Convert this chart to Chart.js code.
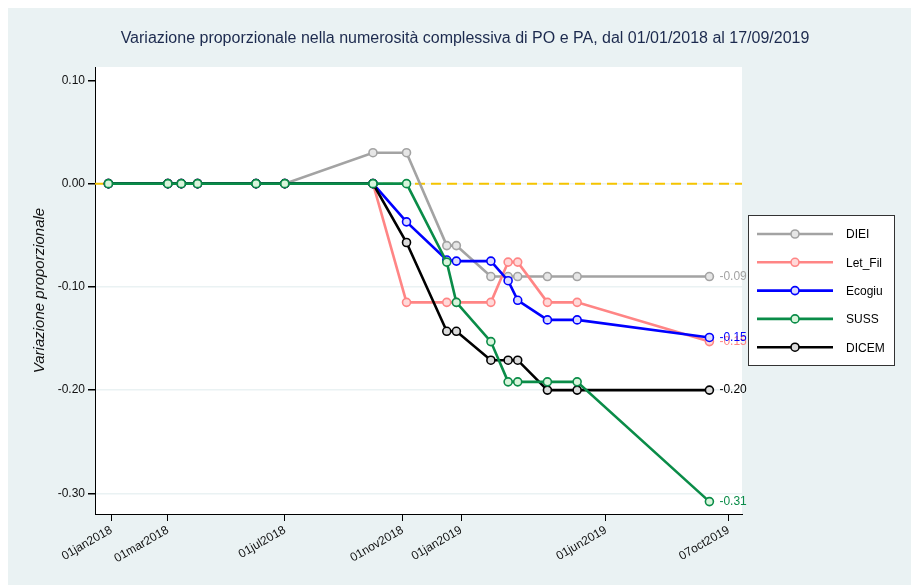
<!DOCTYPE html>
<html lang="it">
  <head>
    <meta charset="UTF-8" />
    <title>Variazione proporzionale PO e PA</title>
    <script src="https://cdn.jsdelivr.net/npm/chart.js"></script>
    <style>
      body {
        margin: 0;
        background: #ffffff;
      }
      canvas {
        display: block;
      }
    </style>
  </head>
  <body>
    <canvas id="chart" width="911" height="585"></canvas>
    <script>
      // days counted from 01jan2018
      const days = [-3, 59, 73, 90, 151, 181, 273, 308, 350, 360, 396, 414, 424, 455, 486, 624];

      const diei = [0, 0, 0, 0, 0, 0, 0.03, 0.03, -0.06, -0.06, -0.09, -0.09, -0.09, -0.09, -0.09, -0.09];
      const letFil = [0, 0, 0, 0, 0, 0, 0, -0.115, -0.115, -0.115, -0.115, -0.076, -0.076, -0.115, -0.115, -0.153];
      const ecogiu = [0, 0, 0, 0, 0, 0, 0, -0.037, -0.074, -0.075, -0.075, -0.094, -0.113, -0.132, -0.132, -0.149];
      const suss = [0, 0, 0, 0, 0, 0, 0, 0, -0.076, -0.115, -0.153, -0.192, -0.192, -0.192, -0.192, -0.308];
      const dicem = [0, 0, 0, 0, 0, 0, 0, -0.057, -0.143, -0.143, -0.171, -0.171, -0.171, -0.2, -0.2, -0.2];

      const xTickDays = [0, 59, 181, 304, 365, 516, 644];
      const xTickLabels = ["01jan2018", "01mar2018", "01jul2018", "01nov2018", "01jan2019", "01jun2019", "07oct2019"];
      const yTicks = [0.1, 0, -0.1, -0.2, -0.3];

      const titleText = "Variazione proporzionale nella numerosità complessiva di PO e PA, dal 01/01/2018 al 17/09/2019";
      const FONT = "'Liberation Sans', Arial, sans-serif";

      const series = [
        { label: "DIEI", data: diei, color: "#a3a3a3", fill: "#e6e6e6", order: 4 },
        { label: "Let_Fil", data: letFil, color: "#ff8585", fill: "#ffd9d9", order: 3 },
        { label: "Ecogiu", data: ecogiu, color: "#0000ff", fill: "#dcdcff", order: 2 },
        { label: "SUSS", data: suss, color: "#0a8c48", fill: "#d9f5dc", order: 0 },
        { label: "DICEM", data: dicem, color: "#000000", fill: "#dcdcdc", order: 1 },
      ];

      const datasets = series.map((s) => ({
        label: s.label,
        data: days.map((d, i) => ({ x: d, y: s.data[i] })),
        borderColor: s.color,
        backgroundColor: s.fill,
        pointBackgroundColor: s.fill,
        pointBorderColor: s.color,
        pointRadius: 4,
        pointBorderWidth: 1.6,
        borderWidth: 2.6,
        tension: 0,
        order: s.order,
      }));

      // dashed reference line at zero
      datasets.push({
        label: "ref",
        data: [{ x: -17, y: 0 }, { x: 658, y: 0 }],
        borderColor: "#f5c400",
        borderWidth: 2,
        borderDash: [10, 6],
        pointRadius: 0,
        order: 5,
      });

      const decorations = {
        id: "decorations",
        beforeDraw(chart) {
          const { ctx, chartArea } = chart;
          ctx.save();
          ctx.fillStyle = "#ffffff";
          ctx.fillRect(0, 0, chart.width, chart.height);
          ctx.fillStyle = "#eaf2f3";
          ctx.fillRect(8, 8, chart.width - 8, chart.height - 8);
          ctx.fillStyle = "#ffffff";
          ctx.fillRect(chartArea.left, chartArea.top, chartArea.right - chartArea.left, chartArea.bottom - chartArea.top);
          ctx.restore();
        },
        afterDatasetsDraw(chart) {
          const ctx = chart.ctx;
          ctx.save();
          ctx.font = "12px " + FONT;
          ctx.textAlign = "left";
          ctx.textBaseline = "middle";
          series.forEach((s, i) => {
            const pts = chart.getDatasetMeta(i).data;
            const last = pts[pts.length - 1];
            ctx.fillStyle = s.color;
            ctx.fillText(s.data[s.data.length - 1].toFixed(2), last.x + 10, last.y);
          });
          ctx.restore();
        },
        afterDraw(chart) {
          const ctx = chart.ctx;
          ctx.save();
          // title
          ctx.font = "16px " + FONT;
          ctx.fillStyle = "#1c2a4e";
          ctx.textAlign = "center";
          ctx.textBaseline = "middle";
          ctx.fillText(titleText, 465, 39);

          // legend box
          ctx.fillStyle = "#ffffff";
          ctx.fillRect(748.5, 215.5, 146, 150);
          ctx.strokeStyle = "#333333";
          ctx.lineWidth = 1;
          ctx.strokeRect(748.5, 215.5, 146, 150);
          ctx.font = "12px " + FONT;
          ctx.textAlign = "left";
          series.forEach((s, i) => {
            const y = 234 + i * 28.3;
            ctx.strokeStyle = s.color;
            ctx.lineWidth = 2.6;
            ctx.beginPath();
            ctx.moveTo(757, y);
            ctx.lineTo(833, y);
            ctx.stroke();
            ctx.beginPath();
            ctx.arc(795, y, 4, 0, Math.PI * 2);
            ctx.fillStyle = s.fill;
            ctx.fill();
            ctx.lineWidth = 1.6;
            ctx.stroke();
            ctx.fillStyle = "#000000";
            ctx.fillText(s.label, 846, y + 1);
          });
          ctx.restore();
        },
      };

      new Chart(document.getElementById("chart"), {
        type: "line",
        data: { datasets },
        plugins: [decorations],
        options: {
          responsive: false,
          animation: false,
          layout: { padding: { top: 67, right: 169, bottom: 0, left: 0 } },
          plugins: {
            legend: { display: false },
            title: { display: false },
            tooltip: { enabled: false },
          },
          scales: {
            x: {
              type: "linear",
              min: -17,
              max: 658,
              afterFit: (scale) => {
                scale.height = 71;
              },
              afterBuildTicks: (scale) => {
                scale.ticks = xTickDays.map((v) => ({ value: v }));
              },
              ticks: {
                autoSkip: false,
                minRotation: 30,
                maxRotation: 30,
                padding: 2,
                color: "#111111",
                font: { family: FONT, size: 12 },
                callback: (v) => xTickLabels[xTickDays.indexOf(v)],
              },
              grid: {
                drawOnChartArea: false,
                tickLength: 7,
                tickColor: "#000000",
              },
              border: { color: "#000000", width: 1 },
            },
            y: {
              min: -0.32,
              max: 0.113,
              afterFit: (scale) => {
                scale.width = 95;
              },
              afterBuildTicks: (scale) => {
                scale.ticks = yTicks.map((v) => ({ value: v }));
              },
              ticks: {
                padding: 3,
                color: "#111111",
                font: { family: FONT, size: 12 },
                callback: (v) => v.toFixed(2),
              },
              grid: {
                color: (c) => (c.tick && c.tick.value === 0.1 ? "rgba(0,0,0,0)" : "#eaf2f3"),
                lineWidth: 1.5,
                tickLength: 7,
                tickColor: "#000000",
              },
              border: { color: "#000000", width: 1 },
              title: {
                display: true,
                text: "Variazione proporzionale",
                color: "#111111",
                font: { family: FONT, size: 15, style: "italic" },
                padding: { top: 31, bottom: 0 },
              },
            },
          },
        },
      });
    </script>
  </body>
</html>
